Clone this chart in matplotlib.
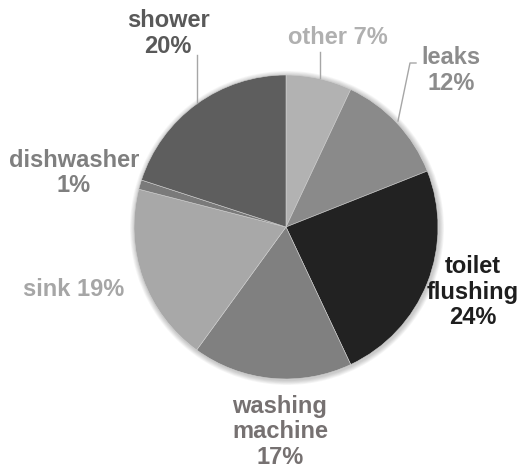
import matplotlib
matplotlib.use("Agg")
import matplotlib.pyplot as plt
from matplotlib.patches import Circle

# Household water use by end use (percent)
categories = ["other", "leaks", "toilet flushing", "washing machine", "sink", "dishwasher", "shower"]
shares = [7, 12, 24, 17, 19, 1, 20]
slice_colors = ["#b2b2b2", "#8a8a8a", "#222222", "#808080", "#a8a8a8", "#7a7a7a", "#5e5e5e"]
label_colors = ["#b0b0b0", "#8c8c8c", "#1e1e1e", "#767171", "#a6a6a6", "#7f7f7f", "#595959"]
label_texts = ["other 7%", "leaks\n12%", "toilet\nflushing\n24%", "washing\nmachine\n17%",
               "sink 19%", "dishwasher\n1%", "shower\n20%"]

W, H = 521, 471
fig = plt.figure(figsize=(W / 100, H / 100), dpi=100)
ax = fig.add_axes([0, 0, 1, 1])
ax.set_xlim(0, W)
ax.set_ylim(0, H)
ax.set_aspect("equal")
ax.axis("off")

cx, cy, r = 286, H - 227, 152

# soft shadow around the pie
for i in range(6):
    ax.add_patch(Circle((cx + 1, cy - 1), r + 1 + i * 0.8, color="black",
                        alpha=0.035, lw=0, zorder=0))

ax.pie(shares, colors=slice_colors, startangle=90, counterclock=False,
       center=(cx, cy), radius=r, wedgeprops=dict(linewidth=0.4, edgecolor="#d0d0d0"),
       frame=True)
ax.set_xlim(0, W)
ax.set_ylim(0, H)
ax.axis("off")

# label anchor points (pixel layout, y measured from top)
label_pos = [(338, 38), (451, 70.5), (473, 292), (280, 432), (74, 290), (74, 173), (168, 33.5)]
for txt, col, (x, y) in zip(label_texts, label_colors, label_pos):
    ax.text(x, H - y, txt, ha="center", va="center", color=col,
            fontsize=17, fontweight="bold", family="Liberation Sans",
            linespacing=1.13)

# leader lines
lc = "#a6a6a6"
ax.plot([320, 320], [H - 52, H - 78], color=lc, lw=1)
ax.plot([197, 197], [H - 55, H - 103], color=lc, lw=1)
ax.plot([416, 410, 398], [H - 63, H - 63, H - 121], color=lc, lw=1)

fig.savefig("out.png", dpi=100)
